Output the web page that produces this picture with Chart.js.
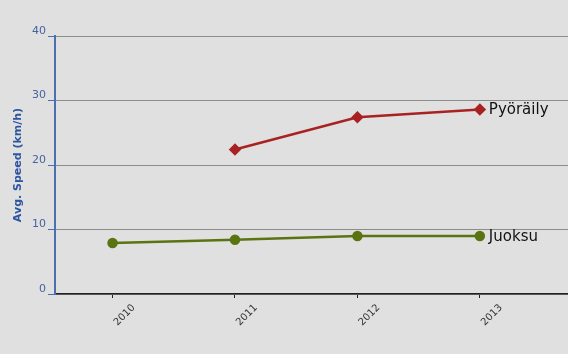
<!DOCTYPE html>
<html>
<head>
<meta charset="utf-8">
<script src="https://cdn.jsdelivr.net/npm/chart.js@4"></script>
<style>
  html, body { margin: 0; padding: 0; background: #e0e0e0; }
  #wrap { width: 568px; height: 354px; }
</style>
</head>
<body>
<div id="wrap"><canvas id="speed" width="568" height="354"></canvas></div>
<script>
const years = [2010, 2011, 2012, 2013]
const cycling = [null, 22.4, 27.4, 28.6]
const running = [7.9, 8.4, 9.0, 9.0]
const seriesNames = ['Pyöräily', 'Juoksu']
const yTicks = [0, 10, 20, 30, 40]

const toPoints = (vals) => years.map((yr, i) => ({ x: yr, y: vals[i] }))

// background + end-of-line labels
const bgPlugin = {
  id: 'bg',
  beforeDraw(chart) {
    const ctx = chart.ctx
    ctx.save()
    ctx.fillStyle = '#e0e0e0'
    ctx.fillRect(0, 0, chart.width, chart.height)
    ctx.restore()
  }
}

const endLabels = {
  id: 'endLabels',
  afterDatasetsDraw(chart) {
    const ctx = chart.ctx
    ctx.save()
    ctx.font = '15px "DejaVu Sans"'
    ctx.fillStyle = '#111'
    ctx.textBaseline = 'middle'
    chart.data.datasets.forEach((ds, i) => {
      const pts = chart.getDatasetMeta(i).data
      const last = pts[pts.length - 1]
      ctx.fillText(seriesNames[i], last.x + 9, last.y + 1)
    })
    ctx.restore()
  }
}

new Chart(document.getElementById('speed'), {
  type: 'line',
  data: {
    datasets: [
      {
        label: seriesNames[0],
        data: toPoints(cycling),
        borderColor: '#a82222',
        backgroundColor: '#a82222',
        borderWidth: 2.5,
        pointStyle: 'rectRot',
        pointRadius: 4.5,
        spanGaps: false
      },
      {
        label: seriesNames[1],
        data: toPoints(running),
        borderColor: '#5b7412',
        backgroundColor: '#5b7412',
        borderWidth: 2.5,
        pointStyle: 'circle',
        pointRadius: 4
      }
    ]
  },
  options: {
    responsive: false,
    animation: false,
    layout: { autoPadding: false, padding: { top: 36, right: 0, left: 0, bottom: 0 } },
    plugins: {
      legend: { display: false },
      tooltip: { enabled: false }
    },
    scales: {
      x: {
        type: 'linear',
        min: 2009.53,
        max: 2013.72,
        afterBuildTicks: (s) => { s.ticks = years.map(v => ({ value: v })) },
        afterFit: (s) => { s.height = 60; s.paddingLeft = 0; s.paddingRight = 0 },
        border: { color: '#222', width: 1.5 },
        grid: { drawOnChartArea: false, tickLength: 4, color: '#222' },
        ticks: {
          minRotation: 45,
          maxRotation: 45,
          labelOffset: 21,
          padding: 4,
          color: '#333',
          font: { family: 'DejaVu Sans', size: 10 },
          callback: (v) => String(v)
        }
      },
      y: {
        min: 0,
        max: 40,
        afterBuildTicks: (s) => { s.ticks = yTicks.map(v => ({ value: v })) },
        afterFit: (s) => { s.width = 55; s.paddingTop = 0; s.paddingBottom = 0 },
        border: { color: '#4a70b0', width: 2 },
        grid: { color: '#8c8c8c', lineWidth: 1, tickLength: 7, tickColor: '#4a70b0' },
        ticks: {
          color: '#4563a0',
          padding: 2,
          labelOffset: -5,
          font: { family: 'DejaVu Sans', size: 11 }
        },
        title: {
          display: true,
          text: 'Avg. Speed (km/h)',
          color: '#2e55a0',
          padding: { top: 12, bottom: 0 },
          font: { family: 'DejaVu Sans', size: 11, weight: 'bold' }
        }
      }
    }
  },
  plugins: [bgPlugin, endLabels]
})
</script>
</body>
</html>
